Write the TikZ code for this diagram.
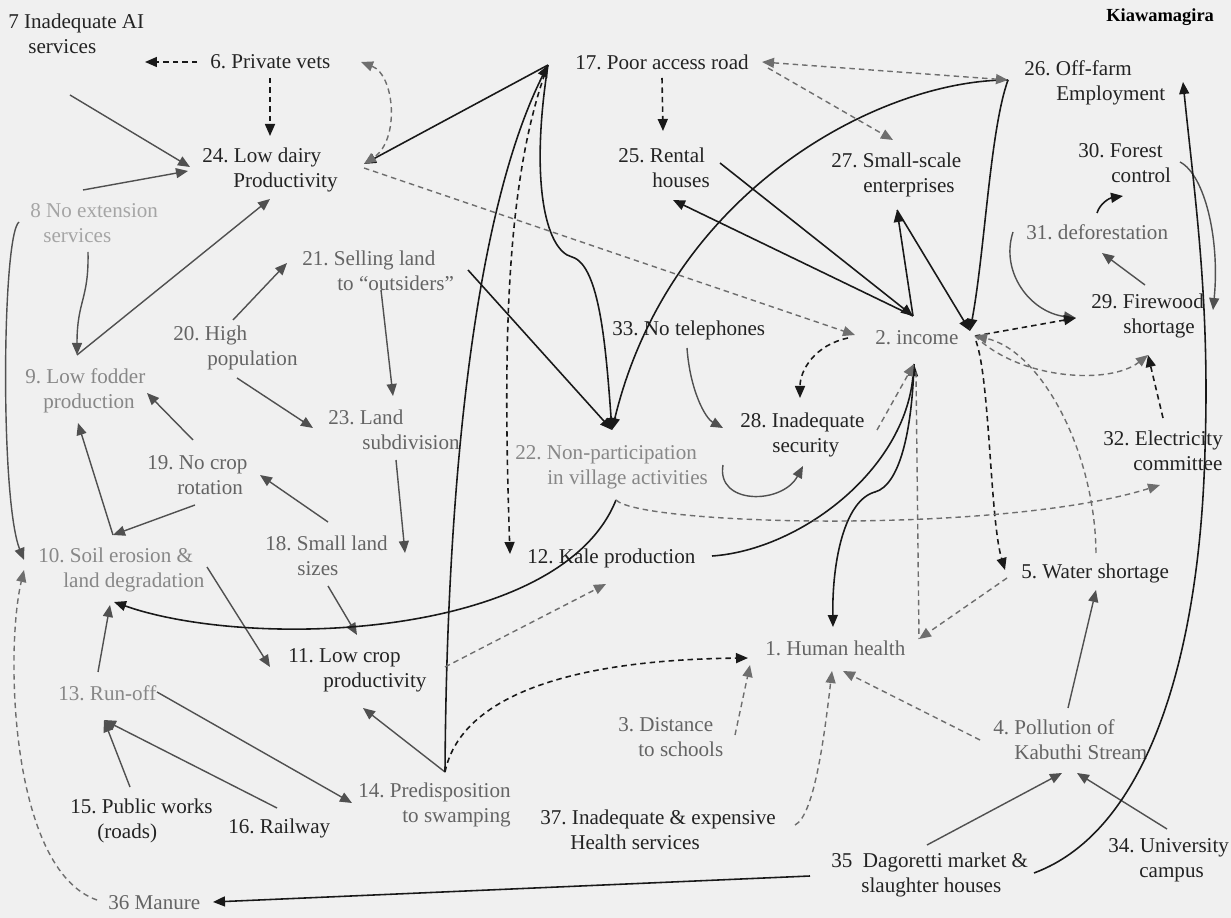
\documentclass[tikz,border=0pt]{standalone}
\usepackage{fontspec}
\setmainfont{Liberation Serif}
\usetikzlibrary{arrows.meta}
\frenchspacing
\newlength\px \setlength\px{0.02cm}
\definecolor{paper}{RGB}{240,240,240}
\definecolor{inkdark}{RGB}{35,35,35}
\definecolor{inkmid}{RGB}{100,100,100}
\definecolor{inklight}{RGB}{135,135,135}
\definecolor{inkfaint}{RGB}{165,165,165}
\definecolor{linedark}{RGB}{25,25,25}
\definecolor{linegray}{RGB}{80,80,80}
\definecolor{dashgray}{RGB}{110,110,110}
\tikzset{
  hd/.tip={Triangle[length=2.4mm,width=2mm]},
  lbl/.style={inner sep=0pt, anchor=west, align=left, font=\fontsize{12}{14.2}\selectfont},
  dk/.style={lbl, text=inkdark},
  md/.style={lbl, text=inkmid},
  lt/.style={lbl, text=inklight},
  ft/.style={lbl, text=inkfaint},
  solidk/.style={draw=linedark, line width=0.9pt, -hd},
  solidg/.style={draw=linegray, line width=0.8pt, -hd},
  dashk/.style={draw=linedark, line width=0.9pt, dash pattern=on 1.1mm off 0.8mm, -hd},
  dashg/.style={draw=dashgray, line width=0.8pt, dash pattern=on 1.1mm off 0.8mm, -hd},
}
\begin{document}
\begin{tikzpicture}[x=0.02cm, y=-0.02cm]
\useasboundingbox (0,0) rectangle (1231,918);
\fill[paper] (0,0) rectangle (1231,918);

% ---------- labels ----------
\node[lbl, font=\bfseries\fontsize{10.5}{12}\selectfont, text=black] (kia) at (1106,17) {Kiawamagira};
\node[dk] (n7)  at (8,34)    {7 Inadequate AI\\\hspace*{20\px}services};
\node[dk] (n6)  at (210,62)  {6. Private vets};
\node[dk] (n24) at (202,170) {24. Low dairy\\\hspace*{31\px}Productivity};
\node[ft] (n8)  at (30,223)  {8 No extension\\\hspace*{13\px}services};
\node[dk] (n17) at (575,62)  {17. Poor access road};
\node[dk] (n25) at (618,168) {25. Rental\\\hspace*{34\px}houses};
\node[dk] (n27) at (831,175) {27. Small-scale\\\hspace*{32\px}enterprises};
\node[dk] (n26) at (1024,83) {26. Off-farm\\\hspace*{32\px}Employment};
\node[dk] (n30) at (1078,163) {30. Forest\\\hspace*{33\px}control};
\node[md] (n31) at (1026,232) {31. deforestation};
\node[dk] (n29) at (1091,316) {29. Firewood\\\hspace*{32\px}shortage};
\node[md] (n21) at (302,271) {21. Selling land\\\hspace*{35\px}to “outsiders”};
\node[md] (n20) at (173,348) {20. High\\\hspace*{34\px}population};
\node[lt] (n9)  at (25,391)  {9. Low fodder\\\hspace*{18\px}production};
\node[md] (n23) at (328,430) {23. Land\\\hspace*{34\px}subdivision};
\node[md] (n19) at (147,475) {19. No crop\\\hspace*{30\px}rotation};
\node[md] (n18) at (265,556) {18. Small land\\\hspace*{32\px}sizes};
\node[lt] (n10) at (38,570)  {10. Soil erosion \&\\\hspace*{25\px}land degradation};
\node[dk] (n11) at (288,670) {11. Low crop\\\hspace*{35\px}productivity};
\node[dk] (n33) at (612,330) {33. No telephones};
\node[lt] (n22) at (515,467) {22. Non-participation\\\hspace*{32\px}in village activities};
\node[dk] (n28) at (740,435) {28. Inadequate\\\hspace*{32\px}security};
\node[md] (n2)  at (875,338) {2. income};
\node[dk] (n32) at (1103,451) {32. Electricity\\\hspace*{30\px}committee};
\node[dk] (n12) at (527,558) {12. Kale production};
\node[dk] (n5)  at (1021,573) {5. Water shortage};
\node[md] (n1)  at (765,648) {1. Human health};
\node[lt] (n13) at (58,693)  {13. Run-off};
\node[md] (n3)  at (618,737) {3. Distance\\\hspace*{20\px}to schools};
\node[md] (n4)  at (993,740) {4. Pollution of\\\hspace*{21\px}Kabuthi Stream};
\node[md] (n14) at (358,805) {14. Predisposition\\\hspace*{44\px}to swamping};
\node[dk] (n15) at (70,821)  {15. Public works\\\hspace*{27\px}(roads)};
\node[dk] (n16) at (228,828) {16. Railway};
\node[dk] (n37) at (540,830) {37. Inadequate \& expensive\\\hspace*{30\px}Health services};
\node[dk] (n35) at (831,875) {35\ \ Dagoretti market \&\\\hspace*{30\px}slaughter houses};
\node[dk] (n34) at (1108,860) {34. University\\\hspace*{31\px}campus};
\node[md] (n36) at (108,903) {36 Manure};

% ---------- connector ends ----------
\coordinate (p7)   at (70,95);
\coordinate (p7r)  at (145,62);
\coordinate (p6l)  at (197,62);
\coordinate (p6b)  at (270,78);
\coordinate (p6r)  at (361,62);
\coordinate (p24l) at (190,167);
\coordinate (p24l2) at (188,171);
\coordinate (p24b) at (270,199);
\coordinate (p24t) at (270,136);
\coordinate (p24r) at (364,164);
\coordinate (p24rd) at (364,168);
\coordinate (p8r)  at (83,190);
\coordinate (p8b)  at (88,252);
\coordinate (p8l)  at (19,222);
\coordinate (p9t)  at (77,355);
\coordinate (p9r)  at (147,393);
\coordinate (p9b)  at (78,423);
\coordinate (p10t) at (113,535);
\coordinate (p10l) at (24,560);
\coordinate (p10l2) at (24,570);
\coordinate (p10b) at (110,605);
\coordinate (p10bc) at (114,602);
\coordinate (p10r) at (207,567);
\coordinate (p13t) at (98,672);
\coordinate (p13r) at (157,692);
\coordinate (p13b) at (104,720);
\coordinate (p15t) at (130,787);
\coordinate (p16t) at (277,808);
\coordinate (p14l) at (352,803);
\coordinate (p14t) at (445,772);
\coordinate (p11t) at (357,635);
\coordinate (p11l) at (270,667);
\coordinate (p11b) at (363,708);
\coordinate (p11r) at (445,667);
\coordinate (p18t) at (328,522);
\coordinate (p18b) at (328,586);
\coordinate (p18r) at (405,553);
\coordinate (p19t) at (193,440);
\coordinate (p19b) at (195,505);
\coordinate (p19r) at (260,475);
\coordinate (p20t) at (233,320);
\coordinate (p20b) at (237,378);
\coordinate (p21l) at (287,263);
\coordinate (p21b) at (381,290);
\coordinate (p21r) at (468,270);
\coordinate (p23l) at (313,428);
\coordinate (p23t) at (393,396);
\coordinate (p23b) at (396,460);
\coordinate (p17l) at (548,65);
\coordinate (p17r) at (762,62);
\coordinate (p17rd) at (768,68);
\coordinate (p17b) at (662,78);
\coordinate (bend17) at (572,257);
\coordinate (p25t) at (663,131);
\coordinate (p25r) at (720,163);
\coordinate (p25d) at (673,200);
\coordinate (p12t) at (510,554);
\coordinate (p12b) at (606,584);
\coordinate (p12r) at (712,556);
\coordinate (p22t) at (612,430);
\coordinate (p22b) at (616,500);
\coordinate (p22r) at (723,465);
\coordinate (p33b) at (687,348);
\coordinate (p28l) at (723,428);
\coordinate (p28t) at (800,398);
\coordinate (p28b) at (803,466);
\coordinate (p28r) at (877,430);
\coordinate (p2l)  at (855,335);
\coordinate (p2ls) at (848,338);
\coordinate (p2tl) at (913,316);
\coordinate (p2tr) at (970,331);
\coordinate (p2b)  at (914,364);
\coordinate (p2bv) at (916,372);
\coordinate (p2r)  at (975,336);
\coordinate (p2br) at (976,341);
\coordinate (kink) at (875,492);
\coordinate (p27b) at (897,210);
\coordinate (p27t) at (893,140);
\coordinate (p26l) at (1008,80);
\coordinate (p26r) at (1183,82);
\coordinate (p29l) at (1076,318);
\coordinate (p29t) at (1145,285);
\coordinate (p29b) at (1148,355);
\coordinate (p29r) at (1213,310);
\coordinate (p30r) at (1180,162);
\coordinate (p30b) at (1123,196);
\coordinate (p31t) at (1097,213);
\coordinate (p31r) at (1102,253);
\coordinate (p31l) at (1013,232);
\coordinate (p32t) at (1163,418);
\coordinate (p32l) at (1160,485);
\coordinate (p5l)  at (1005,570);
\coordinate (p5r)  at (1096,553);
\coordinate (p5b)  at (1096,590);
\coordinate (p5bl) at (1007,578);
\coordinate (p1l)  at (748,658);
\coordinate (p1l2) at (750,665);
\coordinate (p1t)  at (833,627);
\coordinate (p1tr) at (919,639);
\coordinate (p1b)  at (832,671);
\coordinate (p1br) at (843,671);
\coordinate (p3r)  at (735,735);
\coordinate (p37r) at (795,825);
\coordinate (p4t)  at (1068,708);
\coordinate (p4l)  at (980,740);
\coordinate (p4b1) at (1062,773);
\coordinate (p4b2) at (1077,773);
\coordinate (p35t) at (927,845);
\coordinate (p35r) at (1034,873);
\coordinate (p35l) at (810,876);
\coordinate (arc35) at (1205,450);
\coordinate (p34t) at (1167,829);
\coordinate (p36r) at (213,902);
\coordinate (p36l) at (97,900);

% ---------- solid grey links ----------
\draw[solidg] (p7) -- (p24l);
\draw[solidg] (p8r) -- (p24l2);
\draw[solidg] (p9t) -- (p24b);
\draw[solidg] (p8b) .. controls (89,300) and (77,300) .. (p9t);
\draw[solidg] (p8l) .. controls (2,235) and (0,500) .. (p10l);
\draw[solidg] (p20t) -- (p21l);
\draw[solidg] (p20b) -- (p23l);
\draw[solidg] (p21b) -- (p23t);
\draw[solidg] (p23b) -- (p18r);
\draw[solidg] (p19t) -- (p9r);
\draw[solidg] (p19b) -- (p10t);
\draw[solidg] (p10t) -- (p9b);
\draw[solidg] (p18t) -- (p19r);
\draw[solidg] (p18b) -- (p11t);
\draw[solidg] (p10r) -- (p11l);
\draw[solidg] (p13t) -- (p10b);
\draw[solidg] (p13r) -- (p14l);
\draw[solidg] (p15t) -- (p13b);
\draw[solidg] (p16t) -- (p13b);
\draw[solidg] (p14t) -- (p11b);
\draw[solidg] (p35t) -- (p4b1);
\draw[solidg] (p34t) -- (p4b2);
\draw[solidg] (p4t) -- (p5b);
\draw[solidg] (p29t) -- (p31r);
\draw[solidg] (p31l) .. controls (1000,272) and (1030,312) .. (p29l);
\draw[solidg] (p30r) .. controls (1205,175) and (1220,240) .. (p29r);
\draw[solidg] (p33b) .. controls (690,390) and (705,418) .. (p28l);
\draw[solidg] (p22r) .. controls (716,505) and (782,505) .. (p28b);

% ---------- solid black links ----------
\draw[solidk] (p31t) .. controls (1100,203) and (1110,198) .. (p30b);
\draw[solidk] (p17l) -- (p24r);
\draw[solidk] (p14t) .. controls (447,450) and (480,200) .. (p17l);
\draw[solidk] (p17l) .. controls (530,180) and (545,250) .. (bend17) .. controls (600,265) and (606,350) .. (p22t);
\draw[solidk] (p21r) -- (p22t);
\draw[solidk] (p26l) .. controls (880,80) and (670,190) .. (p22t);
\draw[solidk] (p25r) -- (p2tl);
\draw[solidk] (p2tl) -- (p25d);
\draw[solidk] (p2tl) -- (p27b);
\draw[solidk] (p27b) -- (p2tr);
\draw[solidk] (p26l) .. controls (990,130) and (985,250) .. (p2tr);
\draw[solidk] (p12r) .. controls (800,550) and (905,470) .. (p2b);
\draw[solidk] (p2b) .. controls (912,430) and (900,485) .. (kink) .. controls (845,500) and (832,560) .. (p1t);
\draw[solidk] (p35r) .. controls (1150,830) and (1200,650) .. (arc35) .. controls (1210,300) and (1195,200) .. (p26r);
\draw[solidk] (p35l) -- (p36r);
\draw[solidk] (p22b) .. controls (560,640) and (250,650) .. (p10bc);

% ---------- dashed links ----------
\draw[dashk] (p6l) -- (p7r);
\draw[dashk] (p6b) -- (p24t);
\draw[dashg, hd-hd] (p6r) .. controls (395,75) and (400,140) .. (p24r);
\draw[dashg] (p24rd) -- (p2l);
\draw[dashk] (p17l) .. controls (505,180) and (503,350) .. (p12t);
\draw[dashg, hd-hd] (p17r) -- (p26l);
\draw[dashg] (p17rd) -- (p27t);
\draw[dashk] (p17b) -- (p25t);
\draw[dashk] (p2ls) .. controls (815,345) and (800,370) .. (p28t);
\draw[dashg] (p28r) -- (p2b);
\draw[dashk] (p2r) -- (p29l);
\draw[dashg] (p2r) .. controls (1020,380) and (1110,385) .. (p29b);
\draw[dashk] (p32t) -- (p29b);
\draw[dashk] (p2br) .. controls (990,380) and (990,520) .. (p5l);
\draw[dashg] (p5r) .. controls (1095,450) and (1040,350) .. (p2r);
\draw[dashg, -] (p2bv) -- (p1tr);
\draw[dashg] (p5bl) -- (p1tr);
\draw[dashg] (p3r) -- (p1l2);
\draw[dashg] (p37r) .. controls (815,815) and (825,730) .. (p1b);
\draw[dashg] (p4l) -- (p1br);
\draw[dashk] (p14t) .. controls (460,700) and (560,660) .. (p1l);
\draw[dashg] (p11r) -- (p12b);
\draw[dashg] (p22b) .. controls (640,525) and (1000,535) .. (p32l);
\draw[dashg] (p36l) .. controls (10,870) and (5,650) .. (p10l2);
\end{tikzpicture}
\end{document}
